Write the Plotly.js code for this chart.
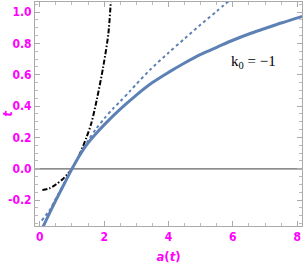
<!DOCTYPE html>
<html><head><meta charset="utf-8">
<script src="https://cdn.plot.ly/plotly-3.0.1.min.js"></script>
<style>html,body{margin:0;padding:0;background:#fff}#c{width:305px;height:273px}</style>
</head><body><div id="c"></div>
<script>
// solid curve
const aSolid = [0.10, 0.5, 0.75, 1.0, 1.25, 1.5, 1.75, 2.0, 2.5, 3.0, 3.5, 4.0, 4.5, 5.0, 5.5, 6.0, 6.5, 7.0, 7.5, 8.2];
const tSolid = [-0.37, -0.20, -0.10, 0.0, 0.09, 0.165, 0.225, 0.28, 0.38, 0.47, 0.55, 0.615, 0.675, 0.73, 0.775, 0.82, 0.86, 0.895, 0.93, 0.975];
// dotted curve
const aDot = [0.06, 0.3, 0.5, 0.75, 1.0, 1.25, 1.5, 1.75, 2.0, 2.28, 2.5, 2.8, 3.0, 3.43, 4.0, 4.5, 5.0, 5.5, 5.9];
const tDot = [-0.33, -0.265, -0.19, -0.095, 0.0, 0.095, 0.18, 0.255, 0.32, 0.385, 0.43, 0.495, 0.54, 0.632, 0.74, 0.83, 0.92, 1.005, 1.075];
// dash-dot curve
const aDash = [0.08, 0.3, 0.5, 0.7, 0.85, 1.0, 1.25, 1.45, 1.6, 1.77, 1.97, 2.13, 2.21];
const tDash = [-0.136, -0.125, -0.1, -0.068, -0.037, 0.0, 0.098, 0.2, 0.29, 0.44, 0.65, 0.86, 1.08];
const xTicks = [0, 2, 4, 6, 8];
const yTicks = [-0.2, 0.0, 0.2, 0.4, 0.6, 0.8, 1.0];
const yTickText = ["-0.2", "0.0", "0.2", "0.4", "0.6", "0.8", "1.0"];
const label = "k<sub>0</sub> = −1";

const blue = "#5E81B5";
const mag = "#FF00FF";
const fam = "Liberation Sans Narrow, DejaVu Sans Condensed, Arial";
const tickFont = {family: fam, size: 12, color: mag, weight: "bold"};

const traces = [
  {x: [-1, 10], y: [0, 0], mode: "lines", line: {color: "#666", width: 1.3}, hoverinfo: "skip"},
  {x: aDash, y: tDash, mode: "lines", line: {color: "#000", width: 2, dash: "5px,2px,1.5px,2px", shape: "spline", smoothing: 0.8}},
  {x: aDot, y: tDot, mode: "lines", line: {color: blue, width: 2, dash: "dot", shape: "spline", smoothing: 0.8}},
  {x: aSolid, y: tSolid, mode: "lines", line: {color: blue, width: 3, shape: "spline", smoothing: 0.8}}
];

const axBase = {
  showgrid: false, zeroline: false, showline: true, linecolor: "#aaa", linewidth: 1,
  mirror: "ticks", ticks: "inside", ticklen: 5, tickcolor: "#aaa", tickwidth: 1,
  tickfont: tickFont
};

const layout = {
  width: 305, height: 273,
  margin: {l: 35, r: 3, t: 2, b: 47},
  paper_bgcolor: "#fff", plot_bgcolor: "#fff",
  showlegend: false,
  xaxis: Object.assign({}, axBase, {
    range: [-0.15, 8.15], tickvals: xTicks, ticktext: xTicks.map(String),
    minor: {ticks: "inside", ticklen: 3, tickcolor: "#bbb", dtick: 0.5, tick0: 0},
    title: {text: "<i>a</i>(<i>t</i>)", font: {family: fam, size: 13, color: mag, weight: "bold"}, standoff: 8}
  }),
  yaxis: Object.assign({}, axBase, {
    range: [-0.365, 1.064], tickvals: yTicks, ticktext: yTickText,
    minor: {ticks: "inside", ticklen: 3, tickcolor: "#bbb", dtick: 0.05, tick0: 0},
    title: {text: "<i>t</i>", font: {family: fam, size: 13, color: mag, weight: "bold"}, standoff: 4}
  }),
  annotations: [{
    x: 6.64, y: 0.68, xref: "x", yref: "y", text: label, showarrow: false,
    font: {family: "Liberation Serif, Times New Roman, serif", size: 15, color: "#000"}
  }]
};

Plotly.newPlot("c", traces, layout, {staticPlot: true, displayModeBar: false});
</script>
</body></html>
